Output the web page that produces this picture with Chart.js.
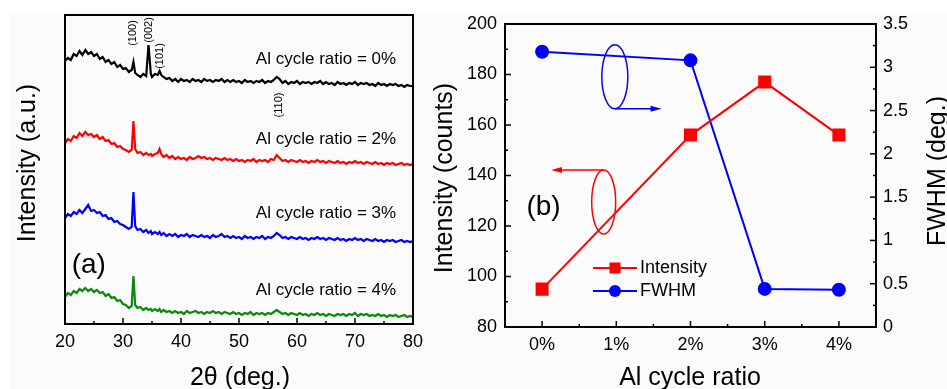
<!DOCTYPE html>
<html>
<head>
<meta charset="utf-8">
<script src="https://cdn.jsdelivr.net/npm/chart.js@4.4.1/dist/chart.umd.min.js"></script>
<style>
  body { margin: 0; background: #fff; }
  #bg { position: absolute; left: 10px; top: 13px; width: 937px; height: 376px; background: #fbfbfb; }
  canvas { position: absolute; top: 0; }
  #xrd { left: 0; }
  #fit { left: 430px; }
</style>
</head>
<body>
<div id="bg"></div>
<canvas id="xrd" width="430" height="389"></canvas>
<canvas id="fit" width="517" height="389"></canvas>
<script>
// 2theta (deg.) sample points
const angles = [20,20.5,21,21.5,22,22.5,23,23.5,24,24.5,25,25.5,26,26.5,27,27.5,28,28.5,29,29.5,
  30,30.5,31,31.5,31.8,32.1,32.5,33,33.5,34,34.4,34.8,35,35.5,36,36.3,36.6,37,37.5,38,
  38.5,39,39.5,40,40.5,41,41.5,42,42.5,43,43.5,44,44.5,45,45.5,46,46.5,47,47.5,48,
  48.5,49,49.5,50,50.5,51,51.5,52,52.5,53,53.5,54,54.5,55,55.5,56,
  56.5,57,
  57.5,58,58.5,59,59.5,60,60.5,61,61.5,62,62.5,63,63.5,64,64.5,65,65.5,66,66.5,67,
  67.5,68,68.5,69,69.5,70,70.5,71,71.5,72,72.5,73,73.5,74,74.5,75,75.5,76,76.5,77,
  77.5,78,78.5,79,79.5,80];

// intensity (a.u., stacked offsets) for each Al cycle ratio
const xrd0 = [263,266,264,270,268,273,269,274,270,272,268,270,265,267,262,264,260,262,257,259,
  255,256,252,254,262,251,249,247,250,248,279,250,247,250,249,253,249,247,245,246,
  243,245,242,245,243,244,242,245,243,244,242,245,243,244,242,244,243,245,242,244,
  242,244,242,243,241,244,242,243,241,243,242,244,241,243,242,244,
  247,245,
  241,243,240,242,241,243,240,242,241,242,240,242,241,243,240,242,240,241,239,242,
  240,241,239,241,240,242,239,241,240,241,239,240,238,241,239,240,238,240,239,240,
  238,239,237,239,238,238];
const xrd2 = [181,185,183,188,186,191,188,192,189,190,187,189,185,187,183,184,180,181,177,178,
  175,174,172,174,203,175,171,172,169,171,169,170,168,170,171,175,170,167,169,166,
  168,165,167,165,166,164,167,165,166,168,166,167,165,166,164,166,165,164,166,164,
  165,163,165,163,164,162,164,163,165,162,164,163,164,162,165,164,
  169,166,
  163,164,162,164,163,162,164,162,163,161,163,162,164,162,163,161,163,162,161,163,
  161,162,160,162,161,163,161,162,160,162,161,160,162,160,161,159,161,160,161,159,
  160,161,159,160,159,160];
const xrd3 = [106,110,108,112,110,114,111,115,119,113,114,111,112,108,109,105,106,102,103,100,
  99,97,95,97,132,98,94,95,92,94,91,93,90,92,90,92,89,91,88,90,
  88,90,87,89,88,90,87,89,88,87,89,87,88,86,89,87,88,90,87,88,
  86,88,86,87,85,88,86,87,85,87,86,88,85,87,86,88,
  91,89,
  86,87,85,87,86,85,87,85,86,84,86,85,87,85,86,84,86,85,84,86,
  84,85,83,85,84,86,84,85,83,85,84,83,85,83,84,82,84,83,84,82,
  83,84,82,83,82,83];
const xrd4 = [27,31,29,33,31,35,33,36,33,35,32,34,31,32,28,30,26,27,23,24,
  20,19,16,18,48,19,16,17,14,16,14,15,13,15,13,15,12,14,12,13,
  11,13,11,12,10,13,11,12,13,11,12,10,12,11,13,11,12,10,12,11,
  10,12,10,11,9,11,10,12,9,11,10,11,9,11,10,12,
  14,12,
  10,11,9,11,10,9,11,9,10,8,10,9,11,9,10,8,10,9,8,10,
  9,10,8,10,9,11,8,10,9,10,8,9,8,10,8,9,7,9,8,9,
  7,8,9,7,8,7];
const xrdRatios = ['0%', '2%', '3%', '4%'];
const xTicksA = [20, 30, 40, 50, 60, 70, 80];

// panel (b)
const ratioLabels = ['0%', '1%', '2%', '3%', '4%'];
const intensity = [95, null, 156, 177, 156];
const fwhm = [3.18, null, 3.08, 0.44, 0.43];
const leftTicksB = [80, 100, 120, 140, 160, 180, 200];
const rightTicksB = [0, 0.5, 1, 1.5, 2, 2.5, 3, 3.5];

const FONT = '"Liberation Sans", Arial, sans-serif';
Chart.defaults.font.family = FONT;
Chart.defaults.color = '#000';

function toPts(ys) {
  return angles.map((a, i) => ({ x: a, y: ys[i] }));
}
function mids(arr) {
  const out = [];
  for (let i = 0; i < arr.length - 1; i++) out.push((arr[i] + arr[i + 1]) / 2);
  return out;
}
function inTicks(ctx, area, scale, values, len, side) {
  values.forEach(v => {
    const p = scale.getPixelForValue(v);
    ctx.beginPath();
    if (side === 'bottom') { ctx.moveTo(p, area.bottom); ctx.lineTo(p, area.bottom - len); }
    if (side === 'left') { ctx.moveTo(area.left, p); ctx.lineTo(area.left + len, p); }
    if (side === 'right') { ctx.moveTo(area.right, p); ctx.lineTo(area.right - len, p); }
    ctx.stroke();
  });
}
function text(ctx, str, x, y, size, align, rot) {
  ctx.save();
  ctx.translate(x, y);
  if (rot) ctx.rotate(rot);
  ctx.font = size + 'px ' + FONT;
  ctx.fillStyle = '#000';
  ctx.textAlign = align || 'center';
  ctx.textBaseline = 'middle';
  ctx.fillText(str, 0, 0);
  ctx.restore();
}
function frame(ctx, area) {
  ctx.save();
  ctx.strokeStyle = '#000';
  ctx.lineWidth = 2;
  ctx.strokeRect(area.left, area.top, area.right - area.left, area.bottom - area.top);
  ctx.restore();
}

// ---------- panel (a) ----------
const xrdColors = ['#000000', '#ff0000', '#0000ff', '#0a8a0a'];
const xrdLabelY = [265, 185, 111, 34];
const peakLabels = [
  { t: '(100)', x: 31.8, y: 291 },
  { t: '(002)', x: 34.5, y: 294 },
  { t: '(101)', x: 36.4, y: 268 },
  { t: '(110)', x: 56.9, y: 219 }
];

const xrdDecor = {
  id: 'xrdDecor',
  afterDraw(chart) {
    const ctx = chart.ctx, a = chart.chartArea;
    const x = chart.scales.x, y = chart.scales.y;
    frame(ctx, a);
    ctx.save();
    ctx.strokeStyle = '#000';
    ctx.lineWidth = 1.5;
    inTicks(ctx, a, x, xTicksA, 6, 'bottom');
    inTicks(ctx, a, x, mids(xTicksA), 3, 'bottom');
    ctx.restore();
    xrdRatios.forEach((r, i) => {
      text(ctx, 'Al cycle ratio = ' + r, x.getPixelForValue(77.1), y.getPixelForValue(xrdLabelY[i]), 17, 'right');
    });
    peakLabels.forEach(p => {
      text(ctx, p.t, x.getPixelForValue(p.x), y.getPixelForValue(p.y), 11, 'center', -Math.PI / 2);
    });
    text(ctx, '(a)', x.getPixelForValue(24.1), y.getPixelForValue(59), 28, 'center');
    text(ctx, 'Intensity (a.u.)', 28, 163, 25, 'center', -Math.PI / 2);
    text(ctx, '2\u03b8 (deg.)', 240, 378, 25, 'center');
  }
};

new Chart(document.getElementById('xrd'), {
  type: 'line',
  data: {
    datasets: [xrd0, xrd2, xrd3, xrd4].map((d, i) => ({
      data: toPts(d),
      borderColor: xrdColors[i],
      borderWidth: 2.2,
      pointRadius: 0,
      tension: 0
    }))
  },
  options: {
    responsive: false,
    animation: false,
    layout: { padding: { top: 15, right: 14, left: 0, bottom: 0 } },
    plugins: { legend: { display: false }, tooltip: { enabled: false } },
    scales: {
      x: {
        type: 'linear', min: 20, max: 80,
        afterBuildTicks: s => { s.ticks = xTicksA.map(v => ({ value: v })); },
        afterFit: s => { s.height = 65; },
        grid: { display: false, drawTicks: false },
        border: { display: false },
        ticks: { padding: 7, font: { size: 18 } }
      },
      y: {
        min: 0, max: 309,
        afterFit: s => { s.width = 65; },
        grid: { display: false, drawTicks: false },
        border: { display: false },
        ticks: { display: false }
      }
    }
  },
  plugins: [xrdDecor]
});

// ---------- panel (b) ----------
function ellipseAt(ctx, cx, cy, rx, ry, color) {
  ctx.save();
  ctx.strokeStyle = color;
  ctx.lineWidth = 1.5;
  ctx.beginPath();
  ctx.ellipse(cx, cy, rx, ry, 0, 0, Math.PI * 2);
  ctx.stroke();
  ctx.restore();
}
function arrow(ctx, x0, y0, x1, color) {
  ctx.save();
  ctx.strokeStyle = color;
  ctx.fillStyle = color;
  ctx.lineWidth = 1.5;
  const dir = x1 > x0 ? 1 : -1;
  ctx.beginPath();
  ctx.moveTo(x0, y0);
  ctx.lineTo(x1 - dir * 8, y0);
  ctx.stroke();
  ctx.beginPath();
  ctx.moveTo(x1, y0);
  ctx.lineTo(x1 - dir * 11, y0 - 3);
  ctx.lineTo(x1 - dir * 11, y0 + 3);
  ctx.closePath();
  ctx.fill();
  ctx.restore();
}

const fitDecor = {
  id: 'fitDecor',
  afterDraw(chart) {
    const ctx = chart.ctx, a = chart.chartArea;
    const x = chart.scales.x, yl = chart.scales.y, yr = chart.scales.y2;
    frame(ctx, a);
    ctx.save();
    ctx.strokeStyle = '#000';
    ctx.lineWidth = 1.5;
    inTicks(ctx, a, yl, leftTicksB, 6, 'left');
    inTicks(ctx, a, yl, mids(leftTicksB), 3, 'left');
    inTicks(ctx, a, yr, rightTicksB, 6, 'right');
    inTicks(ctx, a, yr, mids(rightTicksB), 3, 'right');
    inTicks(ctx, a, x, [0, 1, 2, 3, 4], 6, 'bottom');
    inTicks(ctx, a, x, [0.5, 1.5, 2.5, 3.5], 3, 'bottom');
    ctx.restore();

    // ellipse + arrow markers pointing to the axis of each series
    const bx = x.getPixelForValue(0.98), by = yr.getPixelForValue(2.89);
    ellipseAt(ctx, bx, by, 13, 32, '#0000ff');
    arrow(ctx, bx, by + 32, x.getPixelForValue(1.61), '#0000ff');
    const rx = x.getPixelForValue(0.83), ry = yl.getPixelForValue(129.5);
    ellipseAt(ctx, rx, ry, 12, 32, '#ff0000');
    arrow(ctx, rx, ry - 32, x.getPixelForValue(0.12), '#ff0000');

    // legend
    const lx = a.left + 88;
    [['Intensity', '#ff0000', 'rect'], ['FWHM', '#0000ff', 'circle']].forEach((it, i) => {
      const ly = 268 + i * 23;
      ctx.save();
      ctx.strokeStyle = it[1];
      ctx.fillStyle = it[1];
      ctx.lineWidth = 2;
      ctx.beginPath();
      ctx.moveTo(lx, ly);
      ctx.lineTo(lx + 44, ly);
      ctx.stroke();
      if (it[2] === 'rect') ctx.fillRect(lx + 22 - 5.5, ly - 5.5, 11, 11);
      else { ctx.beginPath(); ctx.arc(lx + 22, ly, 6, 0, Math.PI * 2); ctx.fill(); }
      ctx.restore();
      text(ctx, it[0], lx + 47, ly, 18, 'left');
    });

    text(ctx, '(b)', x.getPixelForValue(0.02), yl.getPixelForValue(127.5), 28, 'center');
    text(ctx, 'Intensity (counts)', 15, 178, 25, 'center', -Math.PI / 2);
    text(ctx, 'FWHM (deg.)', 508, 171, 25, 'center', -Math.PI / 2);
    text(ctx, 'Al cycle ratio', 260, 378, 25, 'center');
  }
};

new Chart(document.getElementById('fit'), {
  type: 'line',
  data: {
    labels: ratioLabels,
    datasets: [
      {
        label: 'Intensity', data: intensity, yAxisID: 'y', spanGaps: true,
        borderColor: '#ff0000', backgroundColor: '#ff0000', borderWidth: 2,
        pointStyle: 'rect', pointRadius: 7.8, tension: 0
      },
      {
        label: 'FWHM', data: fwhm, yAxisID: 'y2', spanGaps: true,
        borderColor: '#0000ff', backgroundColor: '#0000ff', borderWidth: 2,
        pointStyle: 'circle', pointRadius: 6, tension: 0
      }
    ]
  },
  options: {
    responsive: false,
    animation: false,
    layout: { padding: { top: 24, right: 0, left: 0, bottom: 0 } },
    plugins: { legend: { display: false }, tooltip: { enabled: false } },
    scales: {
      x: {
        type: 'category', offset: true,
        afterFit: s => { s.height = 62; },
        grid: { display: false, drawTicks: false, offset: true },
        border: { display: false },
        ticks: { padding: 7, font: { size: 18 } }
      },
      y: {
        position: 'left', min: 80, max: 200,
        afterBuildTicks: s => { s.ticks = leftTicksB.map(v => ({ value: v })); },
        afterFit: s => { s.width = 75; },
        grid: { display: false, drawTicks: false },
        border: { display: false },
        ticks: { padding: 8, font: { size: 18 } }
      },
      y2: {
        position: 'right', min: 0, max: 3.5,
        afterBuildTicks: s => { s.ticks = rightTicksB.map(v => ({ value: v })); },
        afterFit: s => { s.width = 71; },
        grid: { display: false, drawTicks: false },
        border: { display: false },
        ticks: { padding: 7, font: { size: 18 }, callback: v => String(v) }
      }
    }
  },
  plugins: [fitDecor]
});
</script>
</body>
</html>
